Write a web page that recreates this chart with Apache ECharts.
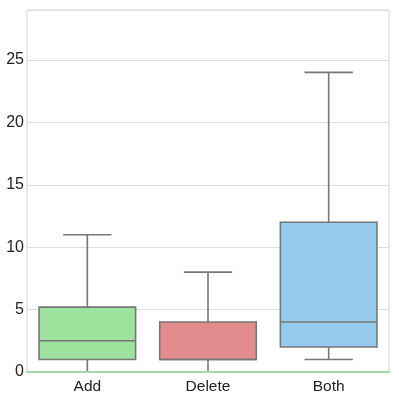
<!DOCTYPE html>
<html>
<head>
<meta charset="utf-8">
<style>html,body{margin:0;padding:0;background:#fff}#c{width:399px;height:399px}</style>
<script src="https://cdn.jsdelivr.net/npm/echarts@6/dist/echarts.min.js"></script>
</head>
<body>
<div id="c"></div>
<script>
var categories = ['Add', 'Delete', 'Both'];
var mins = [0, 0, 1];
var q1s = [1, 1, 2];
var medians = [2.5, 1, 4];
var q3s = [5.2, 4, 12];
var maxs = [11, 8, 24];
var colors = ['#9de39d', '#e38c8e', '#94cbee'];
var yTicks = [0, 5, 10, 15, 20, 25];

var data = categories.map(function (c, i) {
  return [i, mins[i], q1s[i], medians[i], q3s[i], maxs[i]];
});

var chart = echarts.init(document.getElementById('c'), null, {renderer: 'canvas'});
var edge = '#777777';
chart.setOption({
  animation: false,
  grid: {left: 27, right: 10, top: 10, bottom: 27, show: true, borderColor: '#e3e3e3', borderWidth: 1.5, backgroundColor: '#fff'},
  xAxis: {
    type: 'category', data: categories, z: 10,
    axisLine: {show: true, lineStyle: {color: '#a8d4a8', width: 2}},
    axisTick: {show: false},
    axisLabel: {color: '#222', fontSize: 15.5, fontFamily: 'Liberation Sans, Arial, sans-serif', margin: 7},
    splitLine: {show: false}
  },
  yAxis: {
    type: 'value', min: 0, max: 29, interval: 5,
    axisLine: {show: false}, axisTick: {show: false},
    axisLabel: {color: '#222', fontSize: 16, fontFamily: 'Liberation Sans, Arial, sans-serif', margin: 3,
      formatter: function (v) { return yTicks.indexOf(v) >= 0 ? String(v) : ''; }},
    splitLine: {show: true, lineStyle: {color: '#dddddd', width: 1.2}}
  },
  series: [{
    type: 'custom',
    data: data,
    encode: {x: 0, y: [1, 2, 3, 4, 5]},
    renderItem: function (params, api) {
      var i = api.value(0);
      var bw = api.size([1, 0])[0] * 0.8;
      var cx = api.coord([i, 0])[0];
      var yMin = api.coord([i, api.value(1)])[1];
      var yQ1 = api.coord([i, api.value(2)])[1];
      var yMed = api.coord([i, api.value(3)])[1];
      var yQ3 = api.coord([i, api.value(4)])[1];
      var yMax = api.coord([i, api.value(5)])[1];
      var ls = {stroke: edge, lineWidth: 1.6};
      var cap = bw / 4;
      return {
        type: 'group',
        children: [
          {type: 'line', shape: {x1: cx, y1: yQ3, x2: cx, y2: yMax}, style: ls},
          {type: 'line', shape: {x1: cx, y1: yQ1, x2: cx, y2: yMin}, style: ls},
          {type: 'line', shape: {x1: cx - cap, y1: yMax, x2: cx + cap, y2: yMax}, style: ls},
          {type: 'line', shape: {x1: cx - cap, y1: yMin, x2: cx + cap, y2: yMin}, style: ls},
          {type: 'rect', shape: {x: cx - bw / 2, y: yQ3, width: bw, height: yQ1 - yQ3},
            style: {fill: colors[i], stroke: edge, lineWidth: 1.6}},
          {type: 'line', shape: {x1: cx - bw / 2, y1: yMed, x2: cx + bw / 2, y2: yMed}, style: ls}
        ]
      };
    },
    z: 3
  }]
});
</script>
</body>
</html>
